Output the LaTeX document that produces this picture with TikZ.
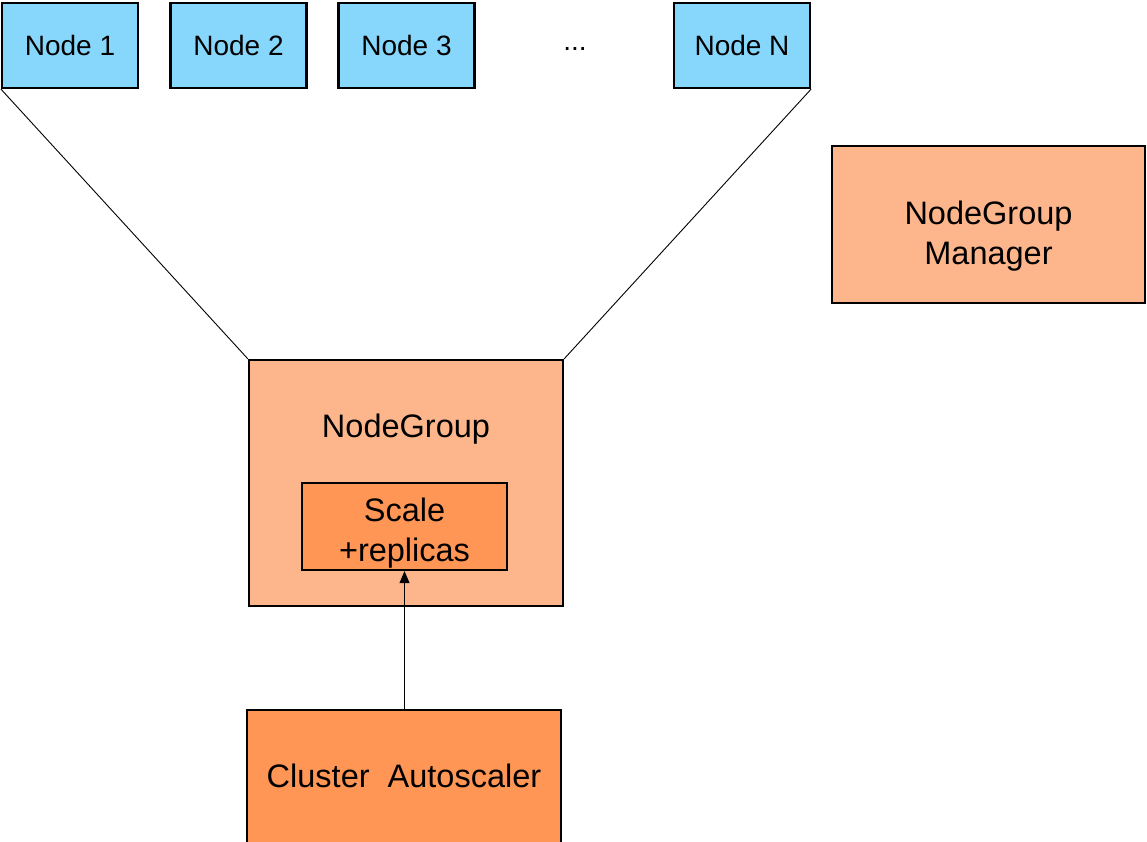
\documentclass[tikz,border=0pt]{standalone}
\usepackage{fontspec}
\setmainfont{Liberation Sans}
\usetikzlibrary{arrows.meta}
\definecolor{nodeblue}{HTML}{87D7FD}
\definecolor{peach}{HTML}{FDB68B}
\definecolor{orng}{HTML}{FF9655}
\tikzset{
  box/.style={draw=black, line width=2.2pt, inner sep=0pt, align=center, text=black},
  worker/.style={box, fill=nodeblue, minimum width=136pt, minimum height=85pt, font=\fontsize{28}{32}\selectfont},
  mgr/.style={box, fill=peach, font=\fontsize{32.5}{40}\selectfont},
  act/.style={box, fill=orng, font=\fontsize{32.5}{40}\selectfont},
  link/.style={draw=black, line width=0.9pt},
}
\begin{document}
\begin{tikzpicture}[x=1pt,y=-1pt]
\useasboundingbox (0,0) rectangle (1147,841);
\node[worker] (n1) at (70,45.5) {Node 1};
\node[worker] (n2) at (238.5,45.5) {Node 2};
\node[worker] (n3) at (406.5,45.5) {Node 3};
\node[font=\fontsize{28}{32}\selectfont] (dots) at (575,49) {...};
\node[worker] (nn) at (742,45.5) {Node N};
\node[mgr, minimum width=313pt, minimum height=157pt] (mgr) at (988.5,224.5) {};
\node[font=\fontsize{32.5}{40}\selectfont, align=center] (mgrl) at (988.5,236) {NodeGroup\\Manager};
\node[mgr, minimum width=314pt, minimum height=246pt] (ng) at (406,483) {};
\node[font=\fontsize{32.5}{40}\selectfont] (ngl) at (406,429) {NodeGroup};
\node[act, minimum width=205pt, minimum height=87pt] (sc) at (404.5,526.5) {};
\node[font=\fontsize{32.5}{40}\selectfont, align=center] (scl) at (404.5,533) {Scale\\+replicas};
\node[act, minimum width=314pt, minimum height=136pt] (ca) at (404,778) {};
\node[font=\fontsize{32.5}{40}\selectfont] (cal) at (404,776) {Cluster\ \ Autoscaler};
\draw[link] (n1.south west) -- (ng.north west);
\draw[link] (nn.south east) -- (ng.north east);
\draw[link, -{Triangle[length=12pt,width=10pt]}] (ca.north -| sc.south) -- (sc.south);
\end{tikzpicture}
\end{document}
